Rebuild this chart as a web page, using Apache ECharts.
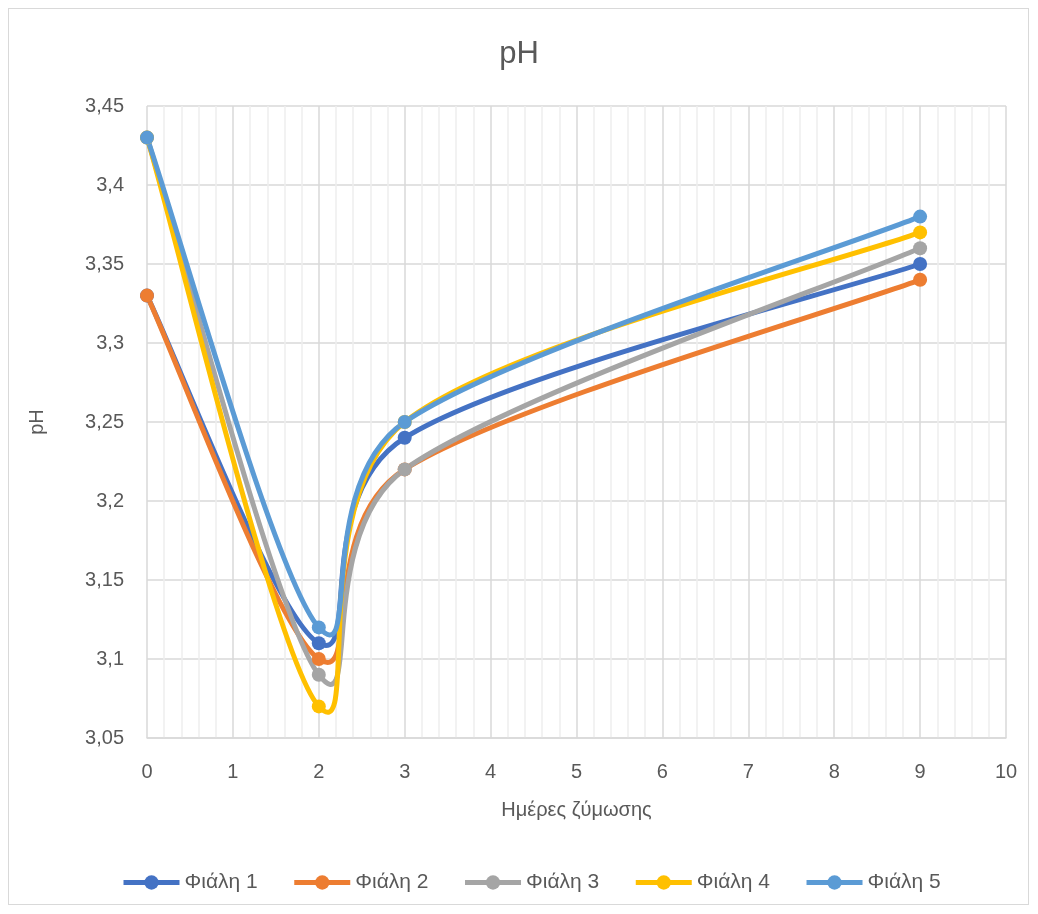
<!DOCTYPE html>
<html>
<head>
<meta charset="utf-8">
<script src="https://cdn.jsdelivr.net/npm/echarts@6/dist/echarts.min.js"></script>
<style>
  html, body { margin: 0; padding: 0; background: #fff; }
  #frame { position: absolute; left: 8px; top: 8px; width: 1021px; height: 897px; border: 1px solid #d9d9d9; box-sizing: border-box; }
  #chart { position: absolute; left: 0; top: 0; width: 1038px; height: 914px; }
</style>
</head>
<body>
<div id="frame"></div>
<div id="chart"></div>
<script>
// Days of fermentation at which pH was measured
const days = [0, 2, 3, 9];
// pH readings per bottle
const bottle1 = [3.33, 3.11, 3.24, 3.35];
const bottle2 = [3.33, 3.10, 3.22, 3.34];
const bottle3 = [3.43, 3.09, 3.22, 3.36];
const bottle4 = [3.43, 3.07, 3.25, 3.37];
const bottle5 = [3.43, 3.12, 3.25, 3.38];

const seriesNames = ['Φιάλη 1', 'Φιάλη 2', 'Φιάλη 3', 'Φιάλη 4', 'Φιάλη 5'];
const seriesValues = [bottle1, bottle2, bottle3, bottle4, bottle5];
const colors = ['#4472C4', '#ED7D31', '#A5A5A5', '#FFC000', '#5B9BD5'];

const FONT = 'Liberation Sans, Open Sans, sans-serif';
const TEXT = '#595959';
const LINE_W = 5;

// Spreadsheet-style smoothed path: cubic Bezier segments whose control
// points follow the neighbouring points (tension 1/6), capped at half the
// segment length. Works in pixel space on points already mapped by the axes.
function smoothPath(pts) {
  const dist = (a, b) => Math.hypot(b[0] - a[0], b[1] - a[1]);
  let d = `M${pts[0][0]} ${pts[0][1]}`;
  for (let i = 0; i < pts.length - 1; i++) {
    const p0 = pts[i - 1] || pts[i];
    const p1 = pts[i];
    const p2 = pts[i + 1];
    const p3 = pts[i + 2] || pts[i + 1];
    const d02 = dist(p0, p2), d12 = dist(p1, p2), d13 = dist(p1, p3);
    let f0 = 1 / 6, f1 = 1 / 6;
    if (d02 / 6 >= d12 / 2 && d02 > 0) f0 = d12 / 2 / d02;
    if (d13 / 6 >= d12 / 2 && d13 > 0) f1 = d12 / 2 / d13;
    const c1 = [p1[0] + (p2[0] - p0[0]) * f0, p1[1] + (p2[1] - p0[1]) * f0];
    const c2 = [p2[0] - (p3[0] - p1[0]) * f1, p2[1] - (p3[1] - p1[1]) * f1];
    d += ` C${c1[0]} ${c1[1]} ${c2[0]} ${c2[1]} ${p2[0]} ${p2[1]}`;
  }
  return d;
}

const chart = echarts.init(document.getElementById('chart'));

const series = [];
seriesNames.forEach((name, i) => {
  const points = days.map((d, j) => [d, seriesValues[i][j]]);
  // the smoothed curve
  series.push({
    name: name + ' ·',
    type: 'custom',
    data: points,
    silent: true,
    renderItem: (params, api) => {
      if (params.dataIndex !== 0) return null;
      const px = points.map(p => api.coord(p));
      return {
        type: 'path',
        shape: { pathData: smoothPath(px) },
        style: { fill: 'none', stroke: colors[i], lineWidth: LINE_W, lineCap: 'round', lineJoin: 'round' }
      };
    }
  });
  // the markers (and the legend entry)
  series.push({
    name,
    type: 'line',
    symbol: 'circle',
    symbolSize: 14,
    lineStyle: { width: LINE_W, color: colors[i], opacity: 0 },
    itemStyle: { color: colors[i] },
    data: points
  });
});

chart.setOption({
  animation: false,
  color: colors,
  title: {
    text: 'pH', left: 'center', top: 34,
    textStyle: { fontFamily: FONT, fontSize: 31, fontWeight: 'normal', color: TEXT }
  },
  legend: {
    bottom: 16, left: 116, itemGap: 34, itemWidth: 56, itemHeight: 18,
    lineStyle: { width: LINE_W, opacity: 1 },
    textStyle: { fontFamily: FONT, fontSize: 21, color: TEXT },
    data: seriesNames
  },
  grid: { left: 147, right: 32, top: 106, bottom: 176 },
  xAxis: {
    type: 'value', min: 0, max: 10, interval: 1,
    name: 'Ημέρες ζύμωσης', nameLocation: 'middle', nameGap: 62,
    nameTextStyle: { fontFamily: FONT, fontSize: 20, color: TEXT },
    axisLine: { show: true, lineStyle: { color: '#d9d9d9', width: 1.5 } },
    axisTick: { show: false },
    axisLabel: { fontFamily: FONT, fontSize: 20, color: TEXT, margin: 24 },
    splitLine: { show: true, lineStyle: { color: '#d9d9d9', width: 1.5 } },
    minorTick: { show: false, splitNumber: 5 },
    minorSplitLine: { show: true, lineStyle: { color: '#eeeeee', width: 1.5 } }
  },
  yAxis: {
    type: 'value', min: 3.05, max: 3.45, interval: 0.05,
    name: 'pH', nameLocation: 'middle', nameGap: 100, nameRotate: 90,
    nameTextStyle: { fontFamily: FONT, fontSize: 20, color: TEXT },
    axisLine: { show: false },
    axisTick: { show: false },
    axisLabel: {
      fontFamily: FONT, fontSize: 20, color: TEXT, margin: 23,
      formatter: v => String(Math.round(v * 100) / 100).replace('.', ',')
    },
    splitLine: { show: true, lineStyle: { color: '#d9d9d9', width: 1.5 } }
  },
  series
});
</script>
</body>
</html>
